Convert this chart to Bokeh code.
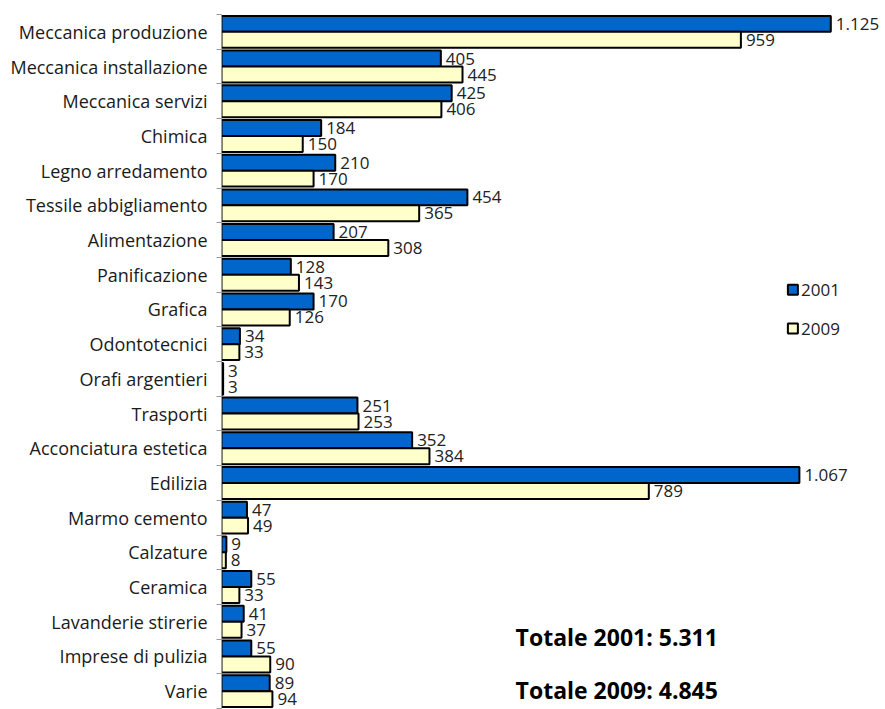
from bokeh.plotting import figure
from bokeh.models import FixedTicker, Label, Range1d, ColumnDataSource
from bokeh.core.properties import value
from bokeh.embed import file_html
from bokeh.resources import INLINE

categories = [
    "Meccanica produzione", "Meccanica installazione", "Meccanica servizi",
    "Chimica", "Legno arredamento", "Tessile abbigliamento", "Alimentazione",
    "Panificazione", "Grafica", "Odontotecnici", "Orafi argentieri",
    "Trasporti", "Acconciatura estetica", "Edilizia", "Marmo cemento",
    "Calzature", "Ceramica", "Lavanderie stirerie", "Imprese di pulizia", "Varie",
]
v2001 = [1125, 405, 425, 184, 210, 454, 207, 128, 170, 34, 3, 251, 352, 1067, 47, 9, 55, 41, 55, 89]
v2009 = [959, 445, 406, 150, 170, 365, 308, 143, 126, 33, 3, 253, 384, 789, 49, 8, 33, 37, 90, 94]
years = ["2001", "2009"]
totals = [sum(v2001), sum(v2009)]

FONT = "Open Sans"
BLUE = "#0066CC"
CREAM = "#FFFFCC"


def it_num(n):
    return f"{n:,}".replace(",", ".")


n = len(categories)
centers = [n - i - 0.5 for i in range(n)]
off = 0.23
bh = 0.46

src01 = ColumnDataSource(dict(y=[c + off for c in centers], v=v2001, t=[it_num(v) for v in v2001]))
src09 = ColumnDataSource(dict(y=[c - off for c in centers], v=v2009, t=[it_num(v) for v in v2009]))

p = figure(width=885, height=709, output_backend="svg", toolbar_location=None,
           x_range=Range1d(0, 1226), y_range=Range1d(0, n),
           x_axis_location=None, min_border_left=221, min_border_right=0,
           min_border_top=14, min_border_bottom=1)
p.outline_line_color = None
p.xgrid.visible = False
p.ygrid.visible = False
p.background_fill_color = "white"

p.hbar(y="y", right="v", left=0, height=bh, source=src01, fill_color=BLUE,
       line_color="black", line_width=2)
p.hbar(y="y", right="v", left=0, height=bh, source=src09, fill_color=CREAM,
       line_color="black", line_width=2)

for s in (src01, src09):
    p.text(x="v", y="y", text="t", source=s, x_offset=5, text_baseline="middle",
           text_font=value(FONT), text_font_size="17px", text_color="#222222")

ax = p.yaxis[0]
ax.ticker = FixedTicker(ticks=centers, minor_ticks=list(range(n + 1)))
ax.major_label_overrides = {c: lab for c, lab in zip(centers, categories)}
ax.major_tick_line_color = None
ax.minor_tick_out = 5
ax.minor_tick_in = 0
ax.minor_tick_line_color = "#999999"
ax.axis_line_color = "#999999"
ax.major_label_standoff = 8
ax.major_label_text_font = FONT
ax.major_label_text_font_size = "18px"
ax.major_label_text_color = "#1a1a1a"

# legend keys
leg_y = [12.07, 10.95]
p.scatter(x=[1055, 1055], y=leg_y, marker="square", size=10,
          fill_color=[BLUE, CREAM], line_color="black", line_width=2)
p.text(x=[1070, 1070], y=leg_y, text=years, text_baseline="middle",
       text_font=value(FONT), text_font_size="17px", text_color="#222222")

# totals
for yy, yr, tot in zip([2.07, 0.52], years, totals):
    p.add_layout(Label(x=543, y=yy, text=f"Totale {yr}: {it_num(tot)}",
                       text_font=FONT, text_font_style="bold",
                       text_font_size="23px", text_baseline="middle",
                       text_color="black"))

open("out.html", "w").write(file_html(p, INLINE))
